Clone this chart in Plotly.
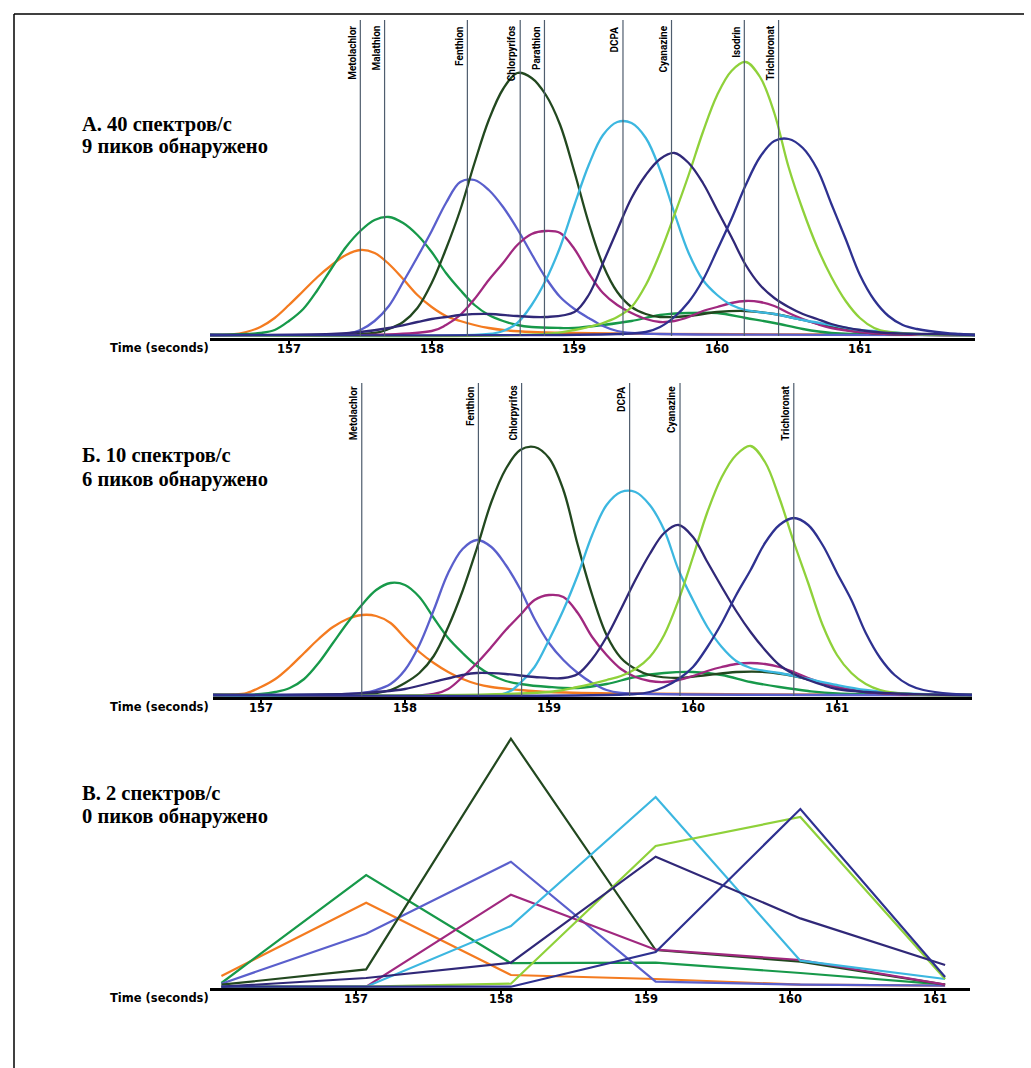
import plotly.graph_objects as go

W, H = 1031, 1068

# ---------------- Panel A: 40 spectra/s (time s, intensity) ----------------
A_ORANGE = [(156.6,0.5),(156.7,3),(156.8,8),(156.9,17),(157.0,30),(157.1,44),(157.2,58),(157.3,70),(157.4,80),(157.5,85),
            (157.6,82),(157.7,71),(157.8,56),(157.9,40),(158.0,28),(158.1,19),(158.2,14),(158.3,10),(158.4,7),(158.5,5),
            (158.7,3),(159.0,2),(159.5,1.2),(160.5,0.6),(161.5,0.3)]
A_GREEN = [(156.7,1),(156.8,2),(156.9,5),(157.0,14),(157.1,26),(157.2,45),(157.3,67),(157.4,88),(157.5,104),(157.6,115),
           (157.7,118),(157.8,112),(157.9,100),(158.0,83),(158.1,62),(158.2,45),(158.3,30),(158.4,20),(158.5,14),(158.6,10),
           (158.7,8),(158.9,7),(159.0,7),(159.2,10),(159.4,14),(159.6,20),(159.8,22),(160.0,22),(160.2,17),(160.4,12),
           (160.6,6),(160.8,2),(161.0,1)]
A_SLATE = [(157.4,1),(157.5,5),(157.6,14),(157.7,29),(157.8,53),(157.9,78),(158.0,104),(158.1,132),(158.2,153),
           (158.3,155),(158.4,145),(158.5,128),(158.6,106),(158.7,81),(158.8,57),(158.9,38),(159.0,26),(159.1,17),(159.2,9),
           (159.3,4),(159.4,2),(159.6,1)]
A_DKGREEN = [(157.6,2),(157.7,6),(157.8,13),(157.9,27),(158.0,52),(158.1,86),(158.2,125),(158.3,172),(158.4,215),(158.5,246),
             (158.6,262),(158.7,257),(158.8,240),(158.9,210),(159.0,163),(159.1,112),(159.2,70),(159.3,43),(159.4,28),
             (159.5,21),(159.6,18),(159.8,19),(160.0,23),(160.2,24),(160.4,21),(160.6,15),(160.8,8),(161.0,3),(161.2,1)]
A_MAGENTA = [(158.0,4),(158.1,10),(158.2,20),(158.3,36),(158.4,55),(158.5,72),(158.6,90),(158.7,101),(158.8,104),(158.9,102),
             (159.0,86),(159.1,62),(159.2,42),(159.3,30),(159.4,22),(159.5,16),(159.6,13),(159.7,14),(159.8,18),(159.9,24),
             (160.0,28),(160.1,32),(160.2,34),(160.3,33),(160.4,29),(160.5,22),(160.6,16),(160.7,11),(160.8,7),(161.0,3),(161.2,1)]
A_CYAN = [(158.4,1),(158.5,4),(158.6,12),(158.7,30),(158.8,55),(158.9,88),(159.0,130),(159.1,170),(159.2,200),(159.3,213),
          (159.4,212),(159.5,197),(159.6,165),(159.7,122),(159.8,82),(159.9,55),(160.0,40),(160.1,30),(160.2,25),
          (160.4,21),(160.6,15),(160.8,10),(161.0,5),(161.2,3),(161.4,1)]
A_CYANAZINE = [(157.3,1),(157.5,3),(157.7,7),(157.9,13),(158.0,16),(158.1,18),(158.2,20),(158.4,21),(158.6,19),(158.8,18),
               (159.0,23),(159.1,40),(159.2,72),(159.3,105),(159.4,137),(159.5,160),(159.6,176),(159.7,182),
               (159.8,172),(159.9,152),(160.0,125),(160.1,98),(160.2,70),(160.3,50),(160.4,37),(160.5,28),(160.6,21),
               (160.7,16),(160.8,11),(161.0,5),(161.2,2),(161.5,1)]
A_LTGREEN = [(158.8,1),(159.0,5),(159.1,8),(159.2,12),(159.3,18),(159.4,28),(159.5,50),(159.6,82),(159.7,120),(159.8,160),
             (159.9,203),(160.0,240),(160.1,264),(160.2,273),(160.3,258),(160.4,222),(160.5,168),(160.6,125),(160.7,88),
             (160.8,58),(160.9,34),(161.0,17),(161.1,7),(161.2,3),(161.4,1)]
A_TRICHLOR = [(159.3,1),(159.5,3),(159.6,8),(159.7,18),(159.8,33),(159.9,55),(160.0,85),(160.1,116),(160.2,150),(160.3,178),
              (160.4,194),(160.5,196),(160.6,187),(160.7,166),(160.8,131),(160.9,96),(161.0,60),(161.1,35),(161.2,19),
              (161.3,10),(161.4,6),(161.6,2),(161.7,1)]
A_MARK_T = [157.50, 157.67, 158.25, 158.62, 158.79, 159.34, 159.68, 160.19, 160.43]
A_MARK_NAMES = ["Metolachlor", "Malathion", "Fenthion", "Chlorpyrifos", "Parathion", "DCPA", "Cyanazine", "Isodrin", "Trichloronat"]

# ---------------- Panel B: 10 spectra/s ----------------
B_ORANGE = [(156.8,0.5),(156.9,2),(157.0,8),(157.1,16),(157.2,28),(157.3,42),(157.4,56),(157.5,68),(157.6,76),(157.7,80),
            (157.8,79),(157.9,72),(158.0,57),(158.1,43),(158.2,32),(158.3,23),(158.4,16),(158.5,11),(158.6,8),(158.8,5),
            (159.0,3),(159.5,1.5),(160.5,0.5)]
B_GREEN = [(157.0,1),(157.1,3),(157.2,7),(157.3,16),(157.4,32),(157.5,52),(157.6,72),(157.7,90),(157.8,105),(157.9,112),
           (158.0,110),(158.1,98),(158.2,77),(158.3,57),(158.4,42),(158.5,29),(158.6,20),(158.7,14),(158.8,11),(159.0,8),
           (159.2,7),(159.4,11),(159.6,18),(159.8,22),(160.0,23),(160.2,20),(160.4,13),(160.6,8),(160.8,4),(161.0,1.5)]
B_SLATE = [(157.6,1),(157.7,2),(157.8,5),(157.9,11),(158.0,25),(158.1,50),(158.2,85),(158.3,122),(158.4,146),(158.5,155),
           (158.6,148),(158.7,130),(158.8,106),(158.9,76),(159.0,52),(159.1,35),(159.2,22),(159.3,12),(159.4,5),(159.5,2),(159.7,1)]
B_DKGREEN = [(157.8,2),(157.9,5),(158.0,12),(158.1,22),(158.2,39),(158.3,68),(158.4,104),(158.5,147),(158.6,193),(158.7,226),
             (158.8,245),(158.9,248),(159.0,237),(159.1,205),(159.2,150),(159.3,100),(159.4,60),(159.5,37),(159.6,26),
             (159.7,20),(159.9,17),(160.1,20),(160.3,23),(160.5,23),(160.7,19),(160.9,12),(161.1,5),(161.3,2)]
B_MAGENTA = [(158.2,1),(158.3,6),(158.4,18),(158.5,32),(158.6,48),(158.7,65),(158.8,80),(158.9,95),(159.0,100),(159.1,98),
             (159.2,82),(159.3,58),(159.4,40),(159.5,26),(159.6,18),(159.7,14),(159.8,13),(159.9,15),(160.0,19),(160.1,24),
             (160.2,28),(160.3,31),(160.4,32),(160.5,31),(160.6,28),(160.7,23),(160.8,17),(160.9,12),(161.0,8),(161.2,3),(161.4,1)]
B_CYAN = [(158.7,2),(158.8,12),(158.9,28),(159.0,55),(159.1,85),(159.2,120),(159.3,160),(159.4,190),(159.5,203),(159.6,203),
          (159.7,190),(159.8,165),(159.9,125),(160.0,95),(160.1,68),(160.2,48),(160.3,34),(160.4,27),(160.6,22),(160.8,16),
          (161.0,10),(161.2,5),(161.4,2),(161.7,0.5)]
B_CYANAZINE = [(157.6,1),(157.8,3),(158.0,6),(158.2,13),(158.4,20),(158.5,22),(158.7,21),(158.9,18),(159.1,17),(159.2,21),
               (159.3,36),(159.4,58),(159.5,86),(159.6,115),(159.7,141),(159.8,162),(159.9,170),(160.0,158),(160.1,133),
               (160.2,108),(160.3,84),(160.4,63),(160.5,45),(160.6,30),(160.7,21),(160.8,15),(160.9,10),(161.0,6),
               (161.2,3),(161.5,1)]
B_LTGREEN = [(159.0,3),(159.2,8),(159.4,15),(159.5,19),(159.6,26),(159.7,38),(159.8,60),(159.9,95),(160.0,138),(160.1,183),
             (160.2,218),(160.3,240),(160.4,249),(160.5,233),(160.6,197),(160.7,153),(160.8,112),(160.9,70),(161.0,40),
             (161.1,22),(161.2,11),(161.3,5),(161.5,1)]
B_TRICHLOR = [(159.6,1),(159.7,3),(159.8,8),(159.9,16),(160.0,28),(160.1,48),(160.2,72),(160.3,100),(160.4,125),(160.5,152),
              (160.6,170),(160.7,177),(160.8,170),(160.9,150),(161.0,122),(161.1,95),(161.2,62),(161.3,37),(161.4,20),
              (161.5,10),(161.6,5),(161.8,1)]
B_MARK_T = [157.70, 158.51, 158.81, 159.56, 159.91, 160.70]
B_MARK_NAMES = ["Metolachlor", "Fenthion", "Chlorpyrifos", "DCPA", "Cyanazine", "Trichloronat"]

# ---------------- Panel C: 2 spectra/s ----------------
C_T = [156.07, 157.07, 158.07, 159.07, 160.07, 161.07]
C_ORANGE = [10.7, 84, 11.7, 7.7, 2, 1]
C_GREEN = [3.7, 111.7, 23.5, 24, 13.7, 2]
C_SLATE = [3, 53, 125, 5, 2, 1]
C_DKGREEN = [2, 17.3, 248, 36.7, 25, 2]
C_MAGENTA = [0, 0, 92, 37, 26.7, 2]
C_CYAN = [0, 0, 60.7, 189.7, 26, 7.7]
C_CYANAZINE = [0, 8.7, 24, 130, 68.3, 21.7]
C_LTGREEN = [0, 0, 3, 140.7, 169.7, 7.7]
C_TRICHLOR = [0, 0, 0, 34.7, 177.7, 9.7]

TICKS = [157, 158, 159, 160, 161]
PANEL_TEXT = [("А. 40 спектров/с", "9 пиков обнаружено"),
              ("Б. 10 спектров/с", "6 пиков обнаружено"),
              ("В. 2 спектров/с", "0 пиков обнаружено")]

COLORS = {
    "orange": "#f47b20", "green": "#17994a", "slate": "#5a5fcc", "dkgreen": "#22481f",
    "magenta": "#a0287f", "cyan": "#3cb7e0", "cyanazine": "#302878", "ltgreen": "#8fd13a",
    "trichlor": "#2e3190",
}

fig = go.Figure()

def px_x(p):
    return p / W

def px_y(p):
    return 1 - p / H

# axis layout: (x domain px, x range, y domain px (bottom, top), y range)
AX = [
    ((210, 975), (156.447, 161.806), (338, 20), (-3, 315)),
    ((213, 972), (156.667, 161.9375), (697, 383), (-2, 312)),
    ((210, 970), (155.991, 161.242), (988, 720), (-1.3, 266.7)),
]
TICKLABEL_Y = [349, 708, 999]

def add_curve(pairs, color, k, xr):
    ts = [xr[0]] + [p[0] for p in pairs] + [xr[1]]
    vs = [0] + [p[1] for p in pairs] + [0]
    sfx = "" if k == 1 else str(k)
    fig.add_trace(go.Scatter(x=ts, y=vs, mode="lines", xaxis="x" + sfx, yaxis="y" + sfx,
                             line=dict(color=color, width=2.3, shape="spline", smoothing=1.0),
                             showlegend=False, hoverinfo="skip"))

A_SERIES = [(A_ORANGE, "orange"), (A_GREEN, "green"), (A_SLATE, "slate"), (A_DKGREEN, "dkgreen"),
            (A_MAGENTA, "magenta"), (A_CYAN, "cyan"), (A_LTGREEN, "ltgreen"), (A_CYANAZINE, "cyanazine"),
            (A_TRICHLOR, "trichlor")]
B_SERIES = [(B_ORANGE, "orange"), (B_GREEN, "green"), (B_SLATE, "slate"), (B_DKGREEN, "dkgreen"),
            (B_MAGENTA, "magenta"), (B_CYAN, "cyan"), (B_LTGREEN, "ltgreen"), (B_CYANAZINE, "cyanazine"),
            (B_TRICHLOR, "trichlor")]
C_SERIES = [(C_ORANGE, "orange"), (C_GREEN, "green"), (C_SLATE, "slate"), (C_DKGREEN, "dkgreen"),
            (C_MAGENTA, "magenta"), (C_CYAN, "cyan"), (C_LTGREEN, "ltgreen"), (C_CYANAZINE, "cyanazine"),
            (C_TRICHLOR, "trichlor")]

for pairs, c in A_SERIES:
    add_curve(pairs, COLORS[c], 1, AX[0][1])
for pairs, c in B_SERIES:
    add_curve(pairs, COLORS[c], 2, AX[1][1])
for vals, c in C_SERIES:
    fig.add_trace(go.Scatter(x=C_T, y=vals, mode="lines", xaxis="x3", yaxis="y3",
                             line=dict(color=COLORS[c], width=2.2), showlegend=False, hoverinfo="skip"))

shapes = []
annotations = []
LABEL_FONT = dict(family="Roboto, sans-serif", size=10, color="black", weight="bold")

def add_markers(times, names, k, top_val, label_top_px):
    sfx = "" if k == 1 else str(k)
    for t, n in zip(times, names):
        shapes.append(dict(type="line", xref="x" + sfx, yref="y" + sfx, x0=t, x1=t, y0=-1, y1=top_val,
                           line=dict(color="#4f5d6e", width=1.2), layer="above"))
        annotations.append(dict(text=n, xref="x" + sfx, yref="paper", x=t, y=px_y(label_top_px),
                                xanchor="right", yanchor="top", xshift=-1, textangle=-90,
                                showarrow=False, font=LABEL_FONT))

add_markers(A_MARK_T, A_MARK_NAMES, 1, 315, 24)
add_markers(B_MARK_T, B_MARK_NAMES, 2, 312, 384)

TEXT_Y = [(124, 147), (456, 479), (793, 816)]
for (l1, l2), (y1, y2), ty in zip(PANEL_TEXT, TEXT_Y, TICKLABEL_Y):
    for txt, yy in ((l1, y1), (l2, y2)):
        annotations.append(dict(text=txt, xref="paper", yref="paper", x=px_x(80), y=px_y(yy),
                                xanchor="left", yanchor="middle", showarrow=False,
                                font=dict(family="Liberation Serif, Times New Roman, serif", size=20.5,
                                          color="black", weight="bold")))
    annotations.append(dict(text="Time (seconds)", xref="paper", yref="paper", x=px_x(211), y=px_y(ty - 1),
                            xanchor="right", yanchor="middle", showarrow=False,
                            font=dict(family="DejaVu Sans", size=11.5, color="black", weight="bold")))

# tick labels placed under each axis
for i, ty in enumerate(TICKLABEL_Y):
    sfx = "" if i == 0 else str(i + 1)
    for t in TICKS:
        annotations.append(dict(text=str(t), xref="x" + sfx, yref="paper", x=t, y=px_y(ty),
                                xanchor="center", yanchor="middle", showarrow=False,
                                font=dict(family="DejaVu Sans", size=11.5, color="black", weight="bold")))

# frame
shapes.append(dict(type="line", xref="paper", yref="paper", x0=px_x(14), x1=px_x(14), y0=0, y1=px_y(14),
                   line=dict(color="black", width=1.5)))
shapes.append(dict(type="line", xref="paper", yref="paper", x0=px_x(14), x1=px_x(1024), y0=px_y(14), y1=px_y(14),
                   line=dict(color="black", width=1.5)))

layout = dict(width=W, height=H, margin=dict(l=0, r=0, t=0, b=0), paper_bgcolor="white",
              plot_bgcolor="rgba(0,0,0,0)", shapes=shapes, annotations=annotations, showlegend=False)

for i, (xd, xr, yd, yr) in enumerate(AX):
    sfx = "" if i == 0 else str(i + 1)
    layout["xaxis" + sfx] = dict(domain=[px_x(xd[0]), px_x(xd[1])], range=list(xr), anchor="y" + sfx,
                                 showgrid=False, zeroline=False, showline=True, linewidth=3, linecolor="black",
                                 ticks="outside", ticklen=3, tickwidth=1.5, tickcolor="black",
                                 tickvals=TICKS, showticklabels=False, fixedrange=True)
    layout["yaxis" + sfx] = dict(domain=[px_y(yd[0]), px_y(yd[1])], range=list(yr), anchor="x" + sfx,
                                 visible=False, showgrid=False, zeroline=False, fixedrange=True)

fig.update_layout(**layout)
fig.write_html("out.html", config={"displayModeBar": False})

# remove the browser's default page margin so pixel positions match
with open("out.html", "r", encoding="utf-8") as f:
    html = f.read()
html = html.replace("<body>", '<body style="margin:0;padding:0;overflow:hidden;">', 1)
with open("out.html", "w", encoding="utf-8") as f:
    f.write(html)
